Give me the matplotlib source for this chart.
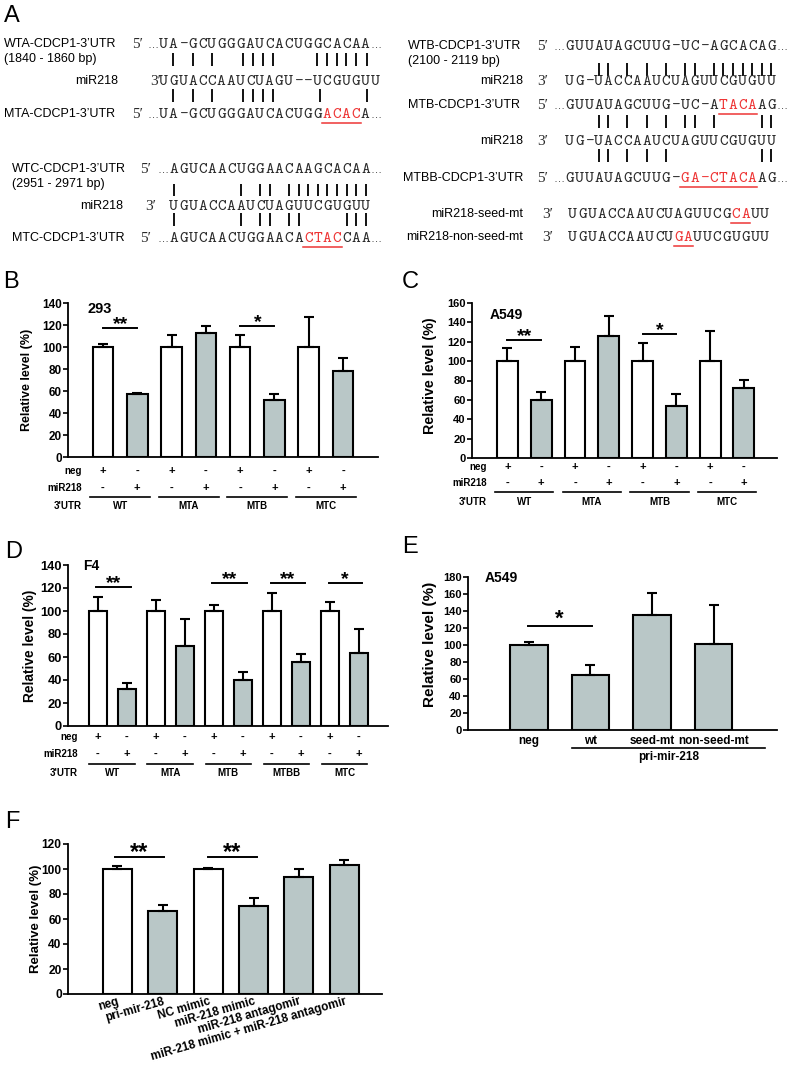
import numpy as np
import matplotlib
matplotlib.use('Agg')
import matplotlib.pyplot as plt
import matplotlib.transforms as mtransforms

plt.rcParams['font.family'] = ['Liberation Sans', 'DejaVu Sans']

# ---------------- data ----------------
# Panel A sequences
seq_wta = "UA-GCUGGGAUCACUGGCACAA"
seq_mir_a = "UGUACCAAUCUAGU--UCGUGUU"
seq_mta = "UA-GCUGGGAUCACUGGACACA"
seq_wtb = "GUUAUAGCUUG-UC-AGCACAG"
seq_mir_b = "UG-UACCAAUCUAGUUCGUGUU"
seq_mtb = "GUUAUAGCUUG-UC-ATACAAG"
seq_mtbb = "GUUAUAGCUUG-GA-CTACAAG"
seq_wtc = "AGUCAACUGGAACAAGCACAA"
seq_mir_c = "UGUACCAAUCUAGUUCGUGUU"
seq_mtc = "AGUCAACUGGAACACTACCAA"
seq_seed_mt = "UGUACCAAUCUAGUUCGCAUU"
seq_nonseed_mt = "UGUACCAAUCUGAUUCGUGUU"

pairs_wta = [1, 3, 5, 8.3, 9.3, 10.3, 11.4, 16, 17, 18, 19, 20, 21.2]
pairs_mta = [1, 3, 5, 8.3, 9.3, 10.3, 11.4, 16.3, 21.2]
pairs_wtb = [3, 4, 6, 8, 10, 12, 13, 15, 16, 17, 18, 19, 20, 21]
pairs_mtb = [3, 4, 6, 8, 10, 12, 13, 15, 20, 21]
pairs_mtbb = [3, 4, 6, 8, 10, 20, 21]
pairs_wtc = [0, 7, 9, 10, 12, 13, 14, 15, 16, 17, 18, 19, 20]
pairs_mtc = [0, 7, 9, 10, 12, 13, 18, 19, 20]

# Panel B (293)
b_values = [100, 57, 100, 113, 100, 52, 100, 78]
b_errors = [3, 1, 11, 6, 11, 5, 27, 12]
b_neg = ['+', '-', '+', '-', '+', '-', '+', '-']
b_mir = ['-', '+', '-', '+', '-', '+', '-', '+']
b_groups = ['WT', 'MTA', 'MTB', 'MTC']
b_yticks = [0, 20, 40, 60, 80, 100, 120, 140]
b_sig = [(0, 1, 117, '**'), (4, 5, 119, '*')]

# Panel C (A549)
c_values = [100, 60, 100, 126, 100, 54, 100, 72]
c_errors = [14, 8, 15, 21, 19, 12, 31, 9]
c_neg = ['+', '-', '+', '-', '+', '-', '+', '-']
c_mir = ['-', '+', '-', '+', '-', '+', '-', '+']
c_groups = ['WT', 'MTA', 'MTB', 'MTC']
c_yticks = [0, 20, 40, 60, 80, 100, 120, 140, 160]
c_sig = [(0, 1, 122, '**'), (4, 5, 128, '*')]

# Panel D (F4)
d_values = [100, 32, 100, 70, 100, 40, 100, 56, 100, 63.5]
d_errors = [12, 5, 10, 23, 5, 7, 16, 7, 8, 21]
d_neg = ['+', '-', '+', '-', '+', '-', '+', '-', '+', '-']
d_mir = ['-', '+', '-', '+', '-', '+', '-', '+', '-', '+']
d_groups = ['WT', 'MTA', 'MTB', 'MTBB', 'MTC']
d_yticks = [0, 20, 40, 60, 80, 100, 120, 140]
d_sig = [(-0.05, 1.15, 120.5, '**'), (3.95, 5.15, 124, '**'),
         (5.95, 7.15, 124, '**'), (7.95, 9.1, 124.5, '*')]

# Panel E (A549)
e_labels = ['neg', 'wt', 'seed-mt', 'non-seed-mt']
e_values = [100, 64.5, 135.5, 101.5]
e_errors = [3.5, 12, 26, 46]
e_yticks = [0, 20, 40, 60, 80, 100, 120, 140, 160, 180]
e_sig = [(-0.02, 1.02, 122.5, '*')]

# Panel F
f_labels = ['neg', 'pri-mir-218', 'NC mimic', 'miR-218 mimic',
            'miR-218 antagomir', 'miR-218 mimic + miR-218 antagomir']
f_values = [100, 66.5, 100, 70.5, 94, 103.5]
f_errors = [2.5, 5, 1, 6.5, 6, 3.5]
f_white = [True, False, True, False, False, False]
f_yticks = [0, 20, 40, 60, 80, 100, 120]
f_sig = [(-0.05, 1.02, 109.6, '**'), (2.0, 3.07, 109.6, '**')]

# ---------------- figure ----------------
W, H = 787, 1066
fig = plt.figure(figsize=(W / 100, H / 100), dpi=100)
ov = fig.add_axes([0, 0, 1, 1])
ov.set_xlim(0, W)
ov.set_ylim(H, 0)
ov.axis('off')

GRAY = '#b9c7c7'
RED = '#ee3535'
SEQC = '#2a2a2a'
CH = 9.6
SEQ_FONT = dict(family=['cmtt10', 'DejaVu Sans Mono'], fontsize=12)
SERIF = ['Liberation Serif', 'DejaVu Serif']


def px_rect(l, t, r, b):
    return [l / W, 1 - b / H, (r - l) / W, (b - t) / H]


def label(x, yc, s, ha='left'):
    ov.text(x, yc + 4, s, ha=ha, va='baseline', fontsize=9)


def seq_row(x0, yc, seq, prefix, px, red=None, dots=True):
    yb = yc + 5
    for i, ch in enumerate(seq):
        col = RED if (red and red[0] <= i < red[1]) else SEQC
        ov.text(x0 + CH * (i + 0.5), yb, ch, ha='center', va='baseline',
                color=col, **SEQ_FONT)
    ov.text(px, yb, prefix, ha='left', va='baseline', family=SERIF,
            fontsize=11, color=SEQC)
    if dots:
        ov.text(x0, yb, '…', ha='right', va='baseline', fontsize=8, color=SEQC)
        ov.text(x0 + CH * len(seq), yb, '…', ha='left', va='baseline',
                fontsize=8, color=SEQC)
    if red:
        ov.plot([x0 + CH * red[0], x0 + CH * red[1]], [yc + 9.5] * 2,
                color=RED, lw=1.1)


def pair_bars(x0, idxs, y1, y2):
    ov.vlines([x0 + CH * (i + 0.5) for i in idxs], y1, y2, color='#111111', lw=1.4)


# Panel letters
for letter, x, y in [('A', 4, 22), ('B', 3, 288), ('C', 402, 288),
                     ('D', 5, 558), ('E', 402, 553), ('F', 5, 828)]:
    ov.text(x, y, letter, fontsize=17, va='baseline', ha='left')

# Block A
label(4, 43, 'WTA-CDCP1-3’UTR')
label(4, 58, '(1840 - 1860 bp)')
label(118, 80, 'miR218', 'right')
label(4, 113, 'MTA-CDCP1-3’UTR')
seq_row(159, 43, seq_wta, '5′', 132)
pair_bars(159, pairs_wta, 53, 66)
seq_row(159, 80, seq_mir_a, '3′', 150, dots=False)
pair_bars(159, pairs_mta, 89, 102)
seq_row(159, 113, seq_mta, '5′', 132, red=(17, 21))

# Block B
label(408, 45, 'WTB-CDCP1-3’UTR')
label(408, 60, '(2100 - 2119 bp)')
label(523, 80, 'miR218', 'right')
label(408, 104, 'MTB-CDCP1-3’UTR')
label(523, 140, 'miR218', 'right')
label(523, 177, 'MTBB-CDCP1-3’UTR', 'right')
label(523, 213, 'miR218-seed-mt', 'right')
label(523, 236, 'miR218-non-seed-mt', 'right')
seq_row(565, 45, seq_wtb, '5′', 537)
pair_bars(565, pairs_wtb, 63, 76)
seq_row(565, 80, seq_mir_b, '3′', 537, dots=False)
seq_row(565, 104, seq_mtb, '5′', 537, red=(16, 20))
pair_bars(565, pairs_mtb, 115, 128)
seq_row(565, 140, seq_mir_b, '3′', 537, dots=False)
pair_bars(565, pairs_mtbb, 149, 162)
seq_row(565, 177, seq_mtbb, '5′', 537, red=(12, 20))
seq_row(568, 213, seq_seed_mt, '3′', 542, red=(17, 19), dots=False)
seq_row(568, 236, seq_nonseed_mt, '3′', 542, red=(11, 13), dots=False)

# Block C
label(12, 168, 'WTC-CDCP1-3’UTR')
label(12, 183, '(2951 - 2971 bp)')
label(123, 205, 'miR218', 'right')
label(12, 237, 'MTC-CDCP1-3’UTR')
seq_row(169, 168, seq_wtc, '5′', 140)
pair_bars(169, pairs_wtc, 184, 196)
seq_row(169, 205, seq_mir_c, '3′', 145, dots=False)
pair_bars(169, pairs_mtc, 213, 226)
seq_row(169, 237, seq_mtc, '5′', 140, red=(14, 18))


# ---------------- bar panels ----------------
def bar_axes(rect, values, errors, colors, xlim, yticks, bw, tick_fs,
             ylab_fs, ylab_x, ylab_y=0.5):
    ax = fig.add_axes(px_rect(*rect))
    ax.patch.set_alpha(0)
    x = np.arange(len(values))
    ax.bar(x, values, width=bw, color=colors, edgecolor='black',
           linewidth=1.5, zorder=2)
    ax.errorbar(x, values, yerr=[np.zeros(len(values)), errors], fmt='none',
                ecolor='black', elinewidth=1.5, capsize=3.5, capthick=1.5,
                zorder=3)
    ax.set_xlim(*xlim)
    ax.set_ylim(0, yticks[-1])
    ax.set_yticks(yticks)
    ax.set_xticks([])
    for s in ['top', 'right']:
        ax.spines[s].set_visible(False)
    for s in ['left', 'bottom']:
        ax.spines[s].set_linewidth(1.3)
    ax.tick_params(axis='y', direction='out', length=3.5, width=1.2,
                   labelsize=tick_fs, pad=1)
    ax.tick_params(axis='x', length=0)
    for t in ax.get_yticklabels():
        t.set_fontweight('bold')
    ax.set_ylabel('Relative level (%)', fontsize=ylab_fs, fontweight='bold')
    ax.yaxis.set_label_coords(ylab_x, ylab_y)
    return ax


def add_sig(ax, sigs, fs, dy):
    for a, b, y, lab in sigs:
        ax.plot([a, b], [y, y], color='black', lw=1.4, zorder=4)
        ax.annotate(lab, xy=((a + b) / 2, y), xytext=(0, dy),
                    textcoords='offset points', ha='center', va='center',
                    fontsize=fs, fontweight='bold')


def cond_rows(ax, negs, mirs, groups, y_neg, y_mir, y_line, y_grp, lab_r,
              halfw):
    tr = mtransforms.blended_transform_factory(ax.transData, ov.transData)
    for k in range(len(negs)):
        ax.text(k, y_neg, negs[k], transform=tr, ha='center', va='center',
                fontsize=8, fontweight='bold')
        ax.text(k, y_mir, mirs[k], transform=tr, ha='center', va='center',
                fontsize=8, fontweight='bold')
    for g, name in enumerate(groups):
        c = 2 * g + 0.5
        ax.plot([c - halfw, c + halfw], [y_line, y_line], transform=tr,
                color='black', lw=1.2, clip_on=False)
        ax.text(c, y_grp, name, transform=tr, ha='center', va='center',
                fontsize=7, fontweight='bold')
    for s, y in [('neg', y_neg), ('miR218', y_mir), ("3'UTR", y_grp)]:
        ov.text(lab_r, y, s, ha='right', va='center', fontsize=7,
                fontweight='bold')


def pair_colors(n):
    return ['white' if k % 2 == 0 else GRAY for k in range(n)]


# B
axB = bar_axes((68, 303, 378, 457), b_values, b_errors, pair_colors(8),
               (-1.02, 8.02), b_yticks, 0.6, 8.5, 9, -0.114)
axB.text(-0.44, 134.5, '293', ha='left', va='center', fontsize=10.5,
         fontweight='bold')
add_sig(axB, b_sig, 14, 2.5)
cond_rows(axB, b_neg, b_mir, b_groups, 471, 488, 497, 506, 82, 0.87)

# C
axC = bar_axes((472, 303, 777, 458), c_values, c_errors, pair_colors(8),
               (-1.05, 7.98), c_yticks, 0.62, 8, 10.3, -0.115, 0.53)
axC.text(-0.52, 147.6, 'A549', ha='left', va='center', fontsize=10,
         fontweight='bold')
add_sig(axC, c_sig, 14, 2.5)
cond_rows(axC, c_neg, c_mir, c_groups, 467, 483, 492, 502, 487, 0.86)

# D
axD = bar_axes((68, 565, 388, 726), d_values, d_errors, pair_colors(10),
               (-1.03, 10.0), d_yticks, 0.61, 9.3, 9.9, -0.097)
axD.text(-0.52, 139, 'F4', ha='left', va='center', fontsize=10,
         fontweight='bold')
add_sig(axD, d_sig, 14, 2.5)
cond_rows(axD, d_neg, d_mir, d_groups, 737, 754, 764, 773, 78, 0.79)

# E
axE = bar_axes((468, 577, 777, 730), e_values, e_errors, [GRAY] * 4,
               (-0.99, 4.03), e_yticks, 0.61, 8, 11, -0.10, 0.56)
axE.text(-0.72, 178.8, 'A549', ha='left', va='center', fontsize=10,
         fontweight='bold')
add_sig(axE, e_sig, 16, 5)
axE.set_xticks(np.arange(len(e_labels)))
axE.set_xticklabels(e_labels, fontsize=8.5, fontweight='bold')
axE.tick_params(axis='x', length=0, pad=3.5)
trE = mtransforms.blended_transform_factory(axE.transData, ov.transData)
axE.plot([0.7, 3.84], [748, 748], transform=trE, color='black', lw=1.2,
         clip_on=False)
axE.text(2.27, 757, 'pri-mir-218', transform=trE, ha='center', va='center',
         fontsize=8.5, fontweight='bold')

# F
axF = bar_axes((68, 844, 382, 994), f_values, f_errors,
               ['white' if w else GRAY for w in f_white],
               (-1.09, 5.83), f_yticks, 0.64, 8.6, 9.5, -0.083)
add_sig(axF, f_sig, 17, 3)
axF.set_xticks(np.arange(len(f_labels)))
axF.set_xticklabels(f_labels, rotation=16, ha='right', va='top',
                    rotation_mode='anchor', fontsize=8.5, fontweight='bold')
axF.tick_params(axis='x', length=0, pad=1)

fig.savefig('out.png', dpi=100)
